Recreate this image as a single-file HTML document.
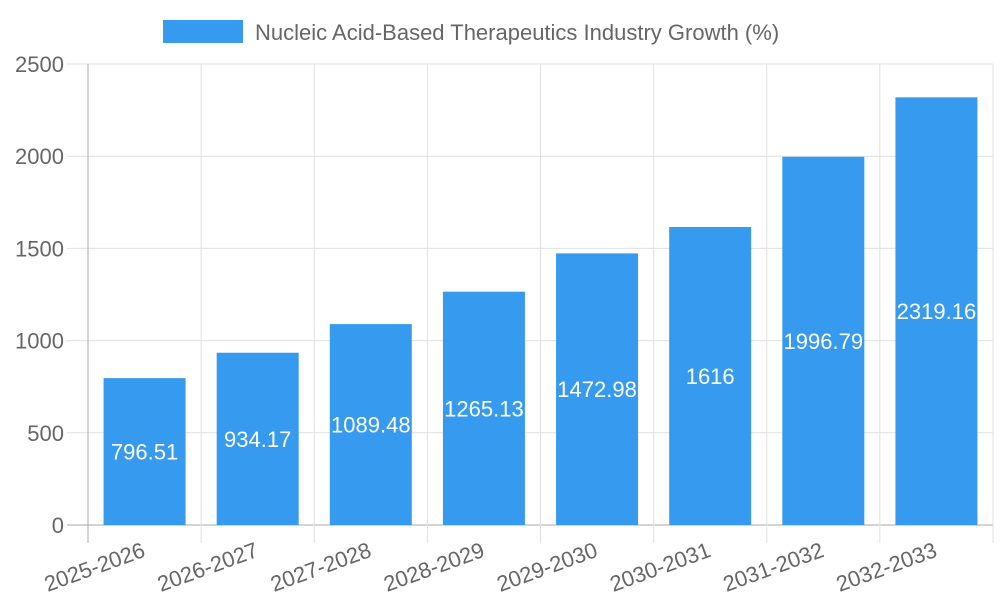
<!DOCTYPE html>
<html><head><meta charset="utf-8"><style>body{margin:0;background:#fff}svg{display:block;font-family:"Liberation Sans",sans-serif}</style></head>
<body>
<svg id="c" width="1000" height="600">
<g>
<rect x="163" y="20" width="80" height="23" fill="#369bef"/>
<text x="255" y="40" font-size="22" fill="#666">Nucleic Acid-Based Therapeutics Industry Growth (%)</text>
</g>
<g id="grid"></g><g id="bars"></g><g id="labels"></g>
</svg>
<script>
const categories=["2025-2026","2026-2027","2027-2028","2028-2029","2029-2030","2030-2031","2031-2032","2032-2033"];
const values=[796.51,934.17,1089.48,1265.13,1472.98,1616,1996.79,2319.16];
const yTicks=[0,500,1000,1500,2000,2500];
const NS="http://www.w3.org/2000/svg";
const L=88,R=993,T=64,B=525,yMax=2500;
const y=v=>B-(v/yMax)*(B-T);
const cw=(R-L)/categories.length;
const x=i=>L+cw*i;
function mk(tag,attrs,parent){const e=document.createElementNS(NS,tag);for(const k in attrs)e.setAttribute(k,attrs[k]);document.getElementById(parent).appendChild(e);return e;}
yTicks.forEach(t=>{
 const l=mk('line',{x1:67,x2:R,y1:y(t),y2:y(t),stroke:t===0?'#aaa':'#e0e0e0','stroke-width':1},'grid');
 
 
 const tx=mk('text',{x:64,y:y(t)+8,'text-anchor':'end','font-size':22,fill:'#666'},'grid');
 tx.textContent=t;
 
 
});
for(let i=0;i<=categories.length;i++){
 const l=mk('line',{x1:x(i),x2:x(i),y1:T,y2:543,stroke:i===0?'#aaa':'#e0e0e0','stroke-width':1},'grid');
 
 
}
values.forEach((v,i)=>{
 const bw=82,bx=x(i)+(cw-bw)/2;
 const r=mk('rect',{x:bx,y:y(v),width:bw,height:B-y(v),fill:'#369bef'},'bars');
 
 
 const t=mk('text',{x:bx+bw/2,y:(y(v)+B)/2+8,'text-anchor':'middle','font-size':22,fill:'#fff'},'labels');
 t.textContent=String(v);
 
 
 const cx=x(i)+cw/2;
 const c=mk('text',{x:0,y:0,'text-anchor':'end','font-size':22,fill:'#666',transform:`translate(${cx+2},${556}) rotate(-20)`},'labels');
 c.textContent=categories[i];
 
 
});
</script>
</body></html>
